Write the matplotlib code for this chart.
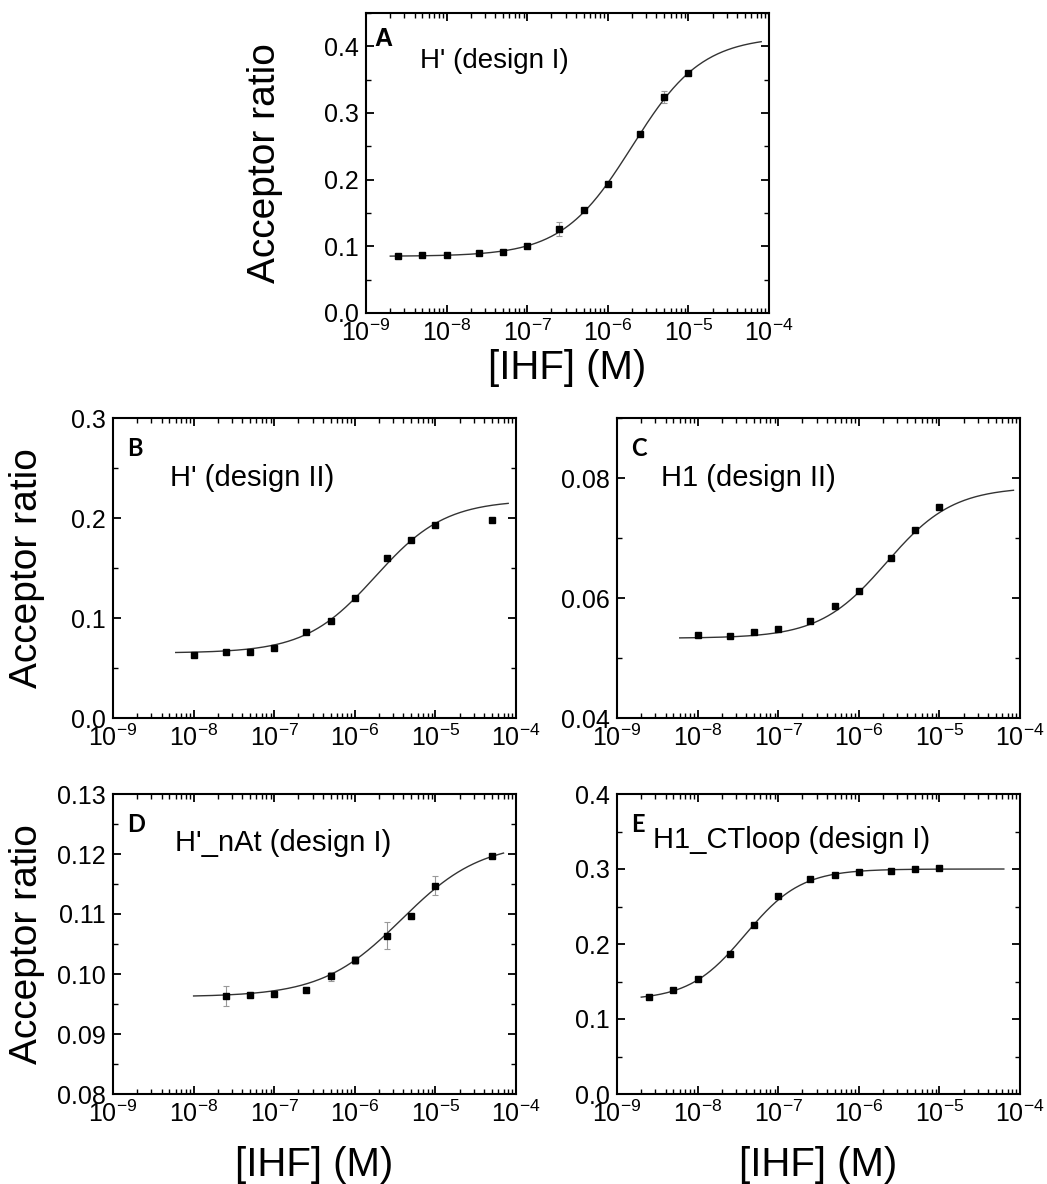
import numpy as np
import matplotlib
matplotlib.use("Agg")
import matplotlib.pyplot as plt
from matplotlib.ticker import LogLocator, LogFormatterSciNotation, MultipleLocator, NullFormatter, FormatStrFormatter

plt.rcParams['font.family'] = ['Liberation Sans', 'DejaVu Sans']
plt.rcParams['mathtext.fontset'] = 'custom'
plt.rcParams['mathtext.rm'] = 'Liberation Sans'
plt.rcParams['mathtext.it'] = 'Liberation Sans:italic'
plt.rcParams['mathtext.bf'] = 'Liberation Sans:bold'

# IHF titrations: acceptor ratio vs [IHF] (M)
conc_a = [2.5e-9, 5e-9, 1e-8, 2.5e-8, 5e-8, 1e-7, 2.5e-7, 5e-7, 1e-6, 2.5e-6, 5e-6, 1e-5]
ratio_a = [0.085, 0.087, 0.087, 0.090, 0.092, 0.100, 0.126, 0.155, 0.194, 0.269, 0.324, 0.360]
err_a = [0.002, 0.001, 0.001, 0.001, 0.001, 0.002, 0.011, 0.002, 0.003, 0.003, 0.009, 0.002]

conc_b = [1e-8, 2.5e-8, 5e-8, 1e-7, 2.5e-7, 5e-7, 1e-6, 2.5e-6, 5e-6, 1e-5, 5e-5]
ratio_b = [0.063, 0.066, 0.066, 0.070, 0.086, 0.097, 0.120, 0.160, 0.178, 0.193, 0.198]

conc_c = [1e-8, 2.5e-8, 5e-8, 1e-7, 2.5e-7, 5e-7, 1e-6, 2.5e-6, 5e-6, 1e-5]
ratio_c = [0.0538, 0.0537, 0.0544, 0.0549, 0.0562, 0.0586, 0.0611, 0.0667, 0.0713, 0.0751]

conc_d = [2.5e-8, 5e-8, 1e-7, 2.5e-7, 5e-7, 1e-6, 2.5e-6, 5e-6, 1e-5, 5e-5]
ratio_d = [0.0963, 0.0965, 0.0967, 0.0974, 0.0996, 0.1023, 0.1064, 0.1096, 0.1147, 0.1196]
err_d = [0.0017, 0.0005, 0.0005, 0.0004, 0.0008, 0.0007, 0.0022, 0.0004, 0.0016, 0.0003]

conc_e = [2.5e-9, 5e-9, 1e-8, 2.5e-8, 5e-8, 1e-7, 2.5e-7, 5e-7, 1e-6, 2.5e-6, 5e-6, 1e-5]
ratio_e = [0.129, 0.139, 0.153, 0.187, 0.226, 0.264, 0.287, 0.292, 0.296, 0.298, 0.300, 0.302]

# Hill fit parameters: bottom, top, K (M), n
fit_a = (0.085, 0.415, 2.0e-6, 1.0)
fit_b = (0.065, 0.218, 1.8e-6, 1.0)
fit_c = (0.0533, 0.0785, 2.2e-6, 1.05)
fit_d = (0.0962, 0.122, 3.8e-6, 0.88)
fit_e = (0.125, 0.300, 3.9e-8, 1.25)
# concentration span of each fit curve
span_a = (2e-9, 8e-5)
span_b = (6e-9, 8e-5)
span_c = (6e-9, 8.3e-5)
span_d = (1e-8, 7e-5)
span_e = (2e-9, 6.3e-5)

letters = ["A", "B", "C", "D", "E"]
names = ["H' (design I)", "H' (design II)", "H1 (design II)", "H'_nAt (design I)", "H1_CTloop (design I)"]


def hill(x, p):
    b, t, k, n = p
    return b + (t - b) / (1 + (k / x) ** n)


W, H = 1047, 1184
fig = plt.figure(figsize=(W / 100, H / 100), dpi=100)


def make_ax(left, top, w=403, h=300):
    return fig.add_axes([left / W, 1 - (top + h) / H, w / W, h / H])


ax_a = make_ax(366, 13)
ax_b = make_ax(113, 418)
ax_c = make_ax(617, 418)
ax_d = make_ax(113, 794)
ax_e = make_ax(617, 794)

panels = [
    (ax_a, conc_a, ratio_a, err_a, fit_a, span_a, (0, 0.45), 0.1, "%.1f"),
    (ax_b, conc_b, ratio_b, None, fit_b, span_b, (0, 0.3), 0.1, "%.1f"),
    (ax_c, conc_c, ratio_c, None, fit_c, span_c, (0.04, 0.09), 0.02, "%.2f"),
    (ax_d, conc_d, ratio_d, err_d, fit_d, span_d, (0.08, 0.13), 0.01, "%.2f"),
    (ax_e, conc_e, ratio_e, None, fit_e, span_e, (0, 0.4), 0.1, "%.1f"),
]

for i, (ax, x, y, e, p, span, ylim, step, fmt) in enumerate(panels):
    xf = np.logspace(np.log10(span[0]), np.log10(span[1]), 300)
    ax.plot(xf, hill(xf, p), color="#333333", lw=1.0, zorder=2)
    if e is not None:
        ax.errorbar(x, y, yerr=e, fmt="none", ecolor="#999999", elinewidth=0.8, capsize=2.5, capthick=0.8, zorder=1)
    ax.plot(x, y, "s", color="black", ms=5, zorder=3)

    ax.set_xscale("log")
    ax.set_xlim(1e-9, 1e-4)
    ax.set_ylim(*ylim)
    ax.xaxis.set_major_locator(LogLocator(base=10, numticks=10))
    ax.xaxis.set_minor_locator(LogLocator(base=10, subs=np.arange(2, 10), numticks=20))
    ax.xaxis.set_major_formatter(LogFormatterSciNotation())
    ax.xaxis.set_minor_formatter(NullFormatter())
    ax.yaxis.set_major_locator(MultipleLocator(step))
    ax.yaxis.set_minor_locator(MultipleLocator(step / 2))
    ax.yaxis.set_major_formatter(FormatStrFormatter(fmt))
    ax.tick_params(which="both", direction="in", top=True, right=True, labelsize=18, pad=5)
    ax.tick_params(which="major", length=6, width=1.3)
    ax.tick_params(which="minor", length=3.5, width=1.0)
    for s in ax.spines.values():
        s.set_linewidth(1.5)

    if i == 0:
        ax.text(0.022, 0.955, letters[i], transform=ax.transAxes, fontsize=18,
                fontweight="bold", va="top", ha="left")
    else:
        ax.text(0.035, 0.935, letters[i], transform=ax.transAxes, fontsize=17,
                fontweight="bold", va="top", ha="left", family=["Lato", "DejaVu Sans"])

# curve names inside panels
ax_a.text(0.134, 0.84, names[0], transform=ax_a.transAxes, fontsize=20, va="center")
ax_b.text(0.142, 0.80, names[1], transform=ax_b.transAxes, fontsize=21, va="center")
ax_c.text(0.108, 0.80, names[2], transform=ax_c.transAxes, fontsize=21, va="center")
ax_d.text(0.155, 0.837, names[3], transform=ax_d.transAxes, fontsize=21, va="center")
ax_e.text(0.09, 0.848, names[4], transform=ax_e.transAxes, fontsize=21, va="center")

for ax, lx in [(ax_a, -0.205), (ax_b, -0.168), (ax_d, -0.168)]:
    ax.set_ylabel("Acceptor ratio", fontsize=28)
    ax.yaxis.set_label_coords(lx, 0.5)

for ax, ly in [(ax_a, -0.12), (ax_d, -0.175), (ax_e, -0.175)]:
    ax.set_xlabel("[IHF] (M)", fontsize=29)
    ax.xaxis.set_label_coords(0.5, ly)

fig.savefig("out.png", dpi=100)
